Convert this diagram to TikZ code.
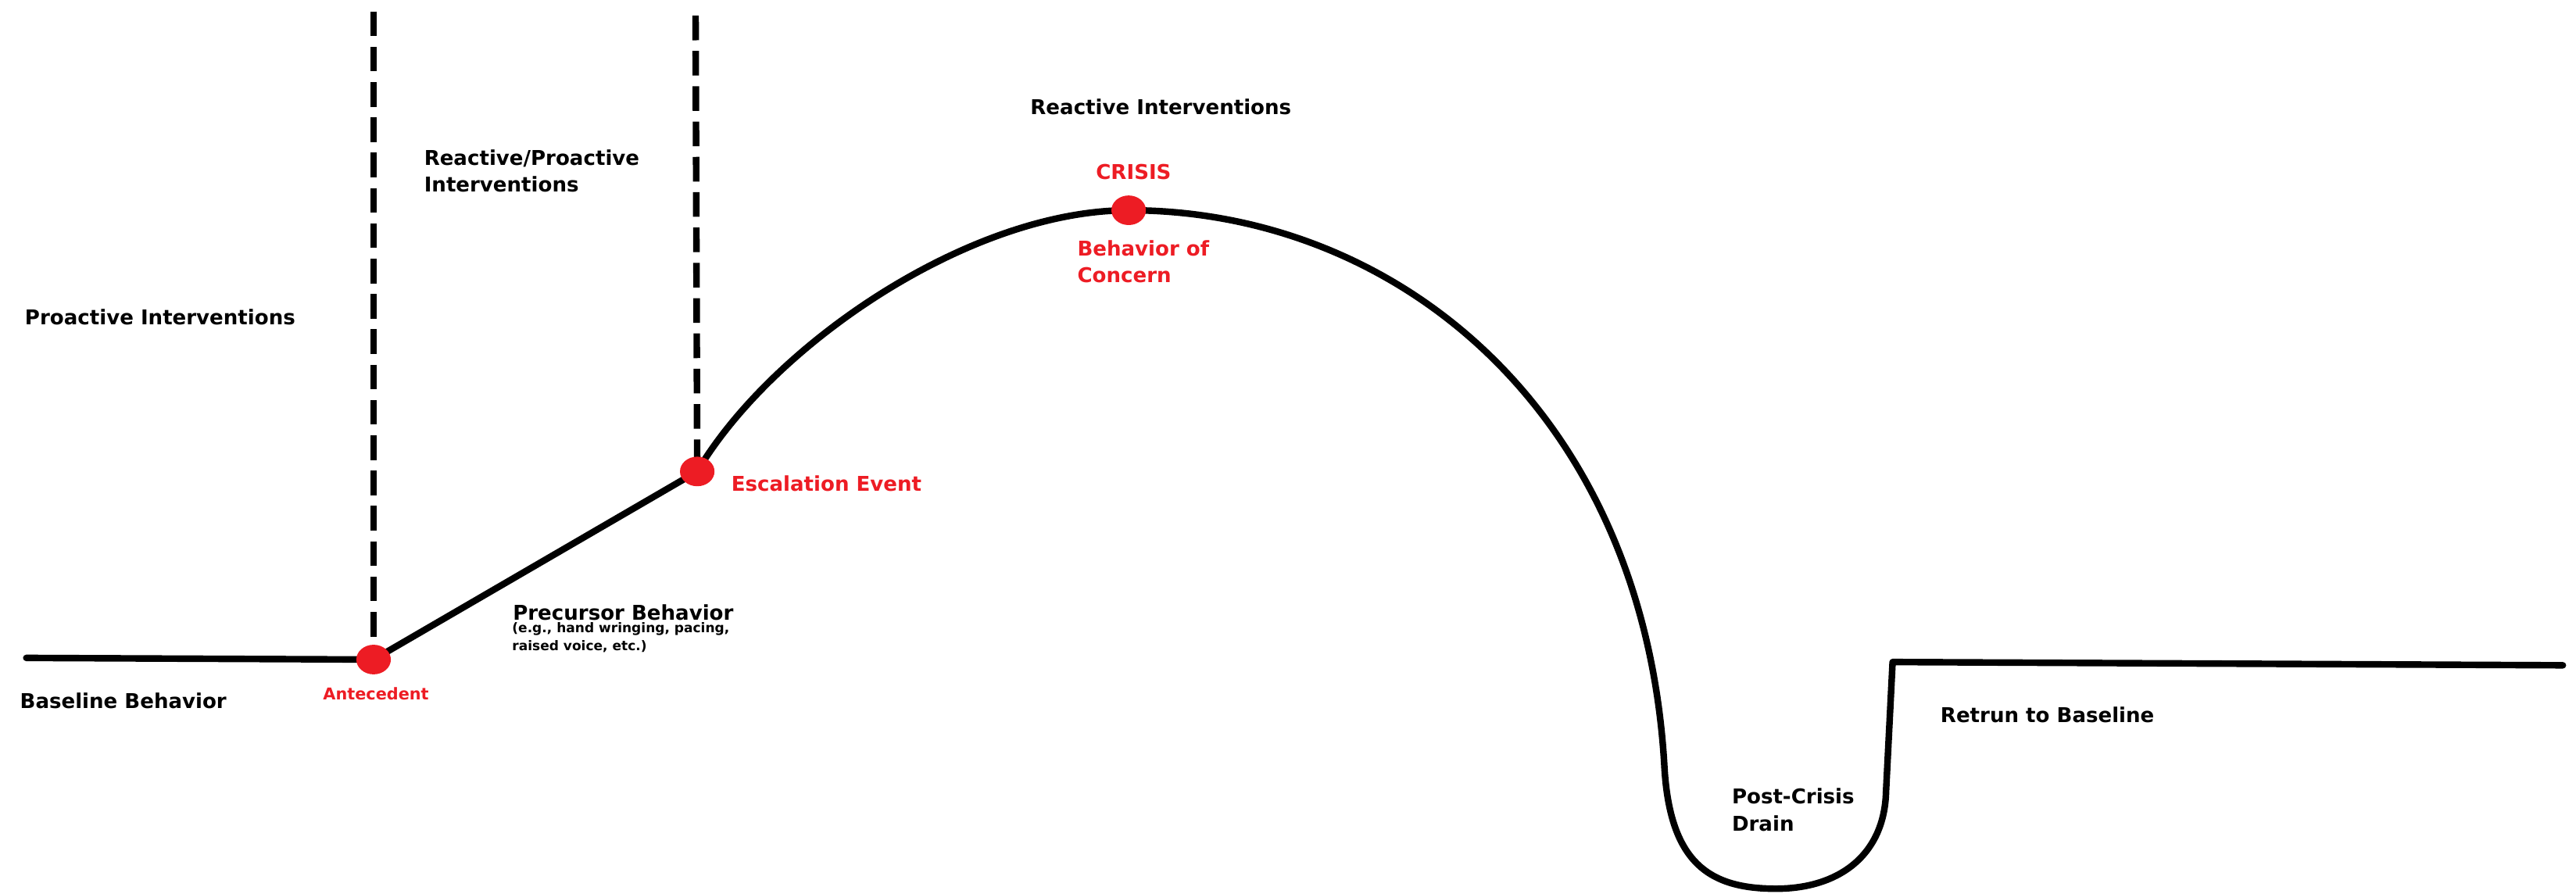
\documentclass[tikz,border=0pt]{standalone}
\usepackage{fontspec}
\setmainfont{DejaVu Sans}
\usetikzlibrary{shapes.geometric}
\definecolor{paintred}{HTML}{ED1C24}
\tikzset{
  lbl/.style={font=\fontsize{12.4}{16.3}\selectfont\bfseries, anchor=base west, inner sep=0pt, align=left},
  redlbl/.style={lbl, text=paintred},
  smalllbl/.style={lbl, font=\fontsize{8.1}{11}\selectfont\bfseries},
  dot/.style={ellipse, fill=paintred, minimum width=21pt, minimum height=18pt, inner sep=0pt},
  pathline/.style={line width=4pt, line cap=round, line join=round},
  divider/.style={line width=4pt, dash pattern=on 15pt off 6.5pt}
}
\begin{document}
\begin{tikzpicture}[x=1pt,y=-1pt]
\useasboundingbox (0,0) rectangle (1568,544);
% points on the curve
\coordinate (start) at (16,400.5);
\coordinate (ante) at (227.4,401.5);
\coordinate (esc) at (424.4,287);
\coordinate (crisis) at (687,128);
\coordinate (drain) at (1081,541);
\coordinate (corner) at (1152,403);
\coordinate (finish) at (1560,405);
\coordinate (top1) at (227.4,7);
\coordinate (top2) at (423.4,9.5);
% dashed dividers
\draw[divider] (top1) -- (ante);
\draw[divider] (top2) -- (esc);
% behaviour curve
\draw[pathline] (start) -- (ante) -- (esc)
  .. controls (470,210) and (590,128) .. (crisis)
  .. controls (850,128) and (1000,250) .. (1013,465)
  .. controls (1016,525) and (1040,541) .. (drain)
  .. controls (1120,541) and (1147,520) .. (1148,482) -- (corner) -- (finish);
% red dots
\node[dot] (antedot) at (ante) {};
\node[dot] (escdot) at (esc) {};
\node[dot] (crisisdot) at (crisis) {};
% labels (multi-line labels sit on the baseline of their last line)
\node[lbl] (proactive) at (15,197.5) {Proactive Interventions};
\node[lbl] (mixed) at (258,117) {Reactive/Proactive\\Interventions};
\node[lbl] (reactive) at (627,69.5) {Reactive Interventions};
\node[redlbl, anchor=base] (crisislbl) at (690,109.4) {CRISIS};
\node[redlbl] (concern) at (655.6,172) {Behavior of\\Concern};
\node[redlbl] (esclbl) at (445,299) {Escalation Event};
\node[lbl] (precursor) at (312,377.7) {Precursor Behavior};
\node[smalllbl] (examples) at (311.6,396) {(e.g., hand wringing, pacing,\\raised voice, etc.)};
\node[redlbl, font=\fontsize{9.9}{12}\selectfont\bfseries] (antelbl) at (196.5,426) {Antecedent};
\node[lbl] (baseline) at (12,431.3) {Baseline Behavior};
\node[lbl] (postcrisis) at (1054,505.8) {Post-Crisis\\Drain};
\node[lbl] (return) at (1181,439.6) {Retrun to Baseline};
\end{tikzpicture}
\end{document}
